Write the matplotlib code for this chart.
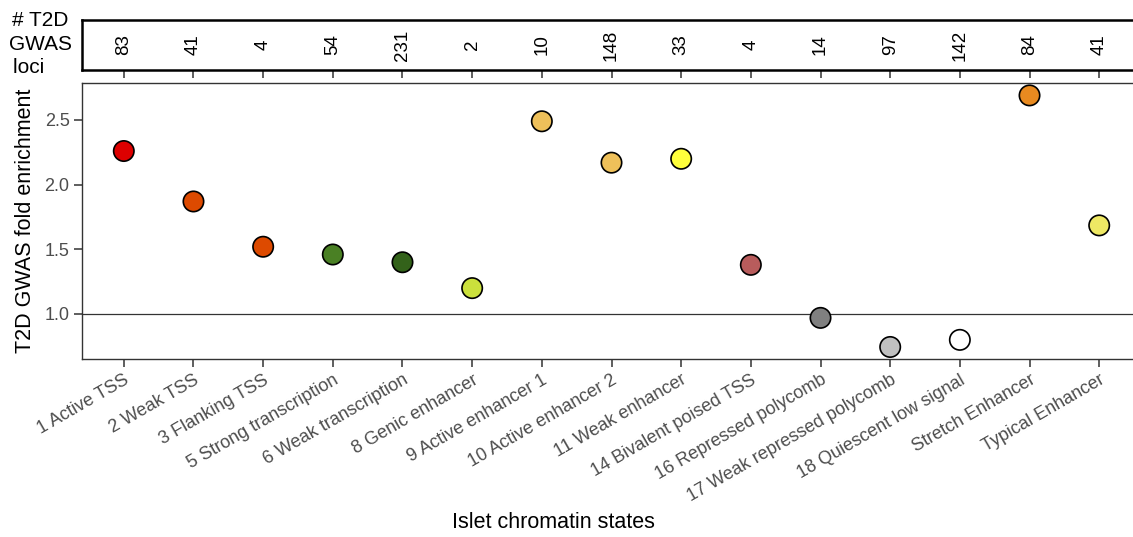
import matplotlib.pyplot as plt
import numpy as np

plt.rcParams['font.family'] = ['Liberation Sans', 'DejaVu Sans']

states = ['1 Active TSS', '2 Weak TSS', '3 Flanking TSS', '5 Strong transcription',
          '6 Weak transcription', '8 Genic enhancer', '9 Active enhancer 1',
          '10 Active enhancer 2', '11 Weak enhancer', '14 Bivalent poised TSS',
          '16 Repressed polycomb', '17 Weak repressed polycomb',
          '18 Quiescent low signal', 'Stretch Enhancer', 'Typical Enhancer']
enrichment = [2.26, 1.87, 1.52, 1.46, 1.40, 1.20, 2.49, 2.17, 2.20, 1.38,
              0.97, 0.745, 0.80, 2.69, 1.685]
n_loci = [83, 41, 4, 54, 231, 2, 10, 148, 33, 4, 14, 97, 142, 84, 41]
colors = ['#DD0000', '#DD4A00', '#DD4A00', '#4A8024', '#33621A', '#CBE03C',
          '#EEC05A', '#EEC05A', '#FFFF3C', '#B85C5C', '#808080', '#C0C0C0',
          '#FFFFFF', '#E88A20', '#EEE864']

x = np.arange(1, len(states) + 1)
grey = '#4D4D4D'

fig = plt.figure(figsize=(11.33, 5.37), dpi=100)
ax = fig.add_axes([82/1133, 1 - 359/537, 1059/1133, 276/537])
top = fig.add_axes([82/1133, 1 - 70/537, 1059/1133, 50/537])

# main panel
ax.axhline(1.0, color='#333333', lw=0.9, zorder=1)
ax.scatter(x, enrichment, s=215, c=colors, edgecolors='black', linewidths=1.2, zorder=3)
ax.set_xlim(0.4, 15.6)
ax.set_ylim(0.652, 2.786)
ax.set_yticks([1.0, 1.5, 2.0, 2.5])
ax.set_yticklabels(['1.0', '1.5', '2.0', '2.5'])
ax.set_xticks(x)
ax.set_xticklabels(states, rotation=30, ha='right', rotation_mode='anchor')
ax.tick_params(axis='both', colors='#333333', labelcolor=grey, labelsize=13,
               length=6, width=1.1, pad=3)
for s in ax.spines.values():
    s.set_color('#333333')
    s.set_linewidth(1.0)
ax.set_ylabel('T2D GWAS fold enrichment', fontsize=15.5)
ax.yaxis.set_label_coords(-0.043, 0.5)
ax.set_xlabel('Islet chromatin states', fontsize=15.5)
ax.xaxis.set_label_coords(0.445, -0.555)

# top panel with locus counts
top.set_xlim(0.4, 15.6)
top.set_ylim(0, 1)
for xi, n in zip(x, n_loci):
    top.text(xi, 0.5, str(n), rotation=90, ha='center', va='center', fontsize=13.5)
top.set_xticks(x)
top.set_xticklabels([])
top.set_yticks([])
top.tick_params(axis='x', length=6, width=1.1, color='#333333')
for s in top.spines.values():
    s.set_linewidth(1.8)
fig.text(40/1133, 1 - 44/537, '# T2D\nGWAS\nloci    ', ha='center', va='center',
         fontsize=15, linespacing=1.3)

fig.savefig('out.png', dpi=100)
